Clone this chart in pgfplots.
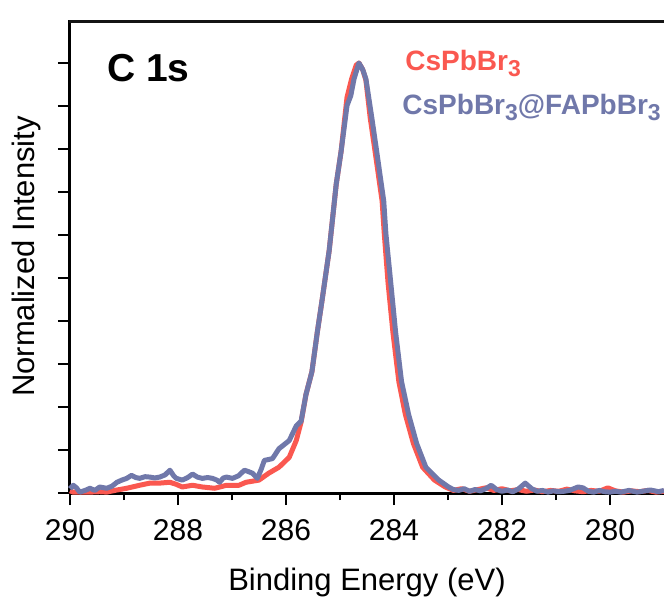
\documentclass[border=0pt]{standalone}
\usepackage{pgfplots}
\pgfplotsset{compat=1.18}
\usepackage{fontspec}
\setmainfont{Liberation Sans}
\definecolor{csred}{RGB}{250,88,80}
\definecolor{csblue}{RGB}{112,120,170}
\definecolor{spine}{RGB}{20,20,20}

\pgfplotstableread{
E I
290.00 0.005
289.94 0.002
289.82 0.002
289.63 0.002
289.45 0.003
289.32 0.002
289.13 0.007
288.95 0.011
288.71 0.018
288.52 0.023
288.34 0.023
288.15 0.025
288.03 0.020
287.92 0.014
287.73 0.018
287.55 0.014
287.32 0.011
287.10 0.018
286.87 0.018
286.74 0.025
286.50 0.030
286.32 0.046
286.13 0.060
285.94 0.083
285.81 0.122
285.72 0.165
285.63 0.229
285.52 0.282
285.42 0.374
285.33 0.450
285.20 0.564
285.07 0.718
284.98 0.794
284.87 0.920
284.78 0.965
284.70 0.995
284.65 1.000
284.58 0.985
284.52 0.960
284.44 0.872
284.35 0.794
284.22 0.679
284.18 0.603
284.11 0.489
284.02 0.374
283.91 0.259
283.79 0.183
283.64 0.115
283.47 0.060
283.25 0.030
283.05 0.014
282.90 0.006
282.75 0.010
282.60 0.004
282.45 0.008
282.30 0.012
282.15 0.006
282.00 0.010
281.85 0.005
281.70 0.008
281.55 0.004
281.40 0.007
281.25 0.003
281.10 0.006
280.95 0.004
280.80 0.009
280.65 0.005
280.50 0.003
280.35 0.006
280.20 0.004
280.04 0.012
279.90 0.005
279.75 0.002
279.60 0.005
279.45 0.003
279.30 0.006
279.15 0.002
279.00 0.004
}\redtab

\pgfplotstableread{
E I
290.00 0.010
289.94 0.018
289.88 0.012
289.82 0.002
289.72 0.006
289.63 0.011
289.54 0.006
289.45 0.014
289.32 0.011
289.22 0.016
289.13 0.025
289.04 0.030
288.95 0.034
288.86 0.041
288.78 0.036
288.71 0.034
288.61 0.038
288.52 0.037
288.43 0.035
288.34 0.037
288.24 0.042
288.15 0.053
288.08 0.040
288.03 0.034
287.92 0.030
287.82 0.036
287.73 0.044
287.64 0.037
287.55 0.034
287.45 0.036
287.36 0.034
287.28 0.030
287.23 0.025
287.16 0.035
287.10 0.037
286.99 0.034
286.88 0.040
286.77 0.053
286.70 0.050
286.62 0.046
286.53 0.034
286.46 0.055
286.40 0.076
286.32 0.078
286.25 0.080
286.13 0.103
286.04 0.112
285.94 0.122
285.81 0.156
285.72 0.167
285.63 0.229
285.52 0.282
285.42 0.374
285.33 0.450
285.20 0.564
285.07 0.718
284.98 0.794
284.87 0.901
284.80 0.924
284.74 0.963
284.65 1.000
284.58 0.985
284.52 0.963
284.41 0.872
284.32 0.794
284.19 0.679
284.15 0.603
284.06 0.489
283.97 0.374
283.86 0.259
283.73 0.183
283.58 0.115
283.41 0.060
283.17 0.030
282.99 0.014
282.90 0.008
282.80 0.006
282.70 0.010
282.60 0.004
282.50 0.008
282.40 0.005
282.30 0.010
282.20 0.018
282.10 0.008
282.00 0.004
281.90 0.007
281.80 0.003
281.70 0.009
281.57 0.023
281.45 0.010
281.35 0.004
281.25 0.006
281.15 0.002
281.05 0.005
280.95 0.003
280.85 0.004
280.75 0.006
280.59 0.014
280.50 0.012
280.40 0.004
280.30 0.002
280.20 0.006
280.10 0.003
280.00 0.002
279.90 0.004
279.80 0.002
279.65 0.006
279.50 0.002
279.40 0.004
279.25 0.007
279.10 0.003
279.00 0.006
}\bluetab

\newcommand{\sub}[1]{\raisebox{-0.4ex}{\fontsize{11.5}{12}\selectfont #1}}

\begin{document}
\begin{tikzpicture}
  \begin{axis}[
      scale only axis,
      width=297pt, height=236.5pt,
      x dir=reverse,
      xmin=279.0, xmax=290,
      ymin=0, ymax=1.1,
      axis x line*=bottom, axis y line*=left,
      axis line style={line width=1.5pt},
      xtick={280,282,...,290},
      minor x tick num=1,
      ytick={0,0.1,...,1.0},
      yticklabels={},
      tick align=outside,
      major tick length=6pt, minor tick length=3.5pt,
      tick style={line width=1.3pt, black},
      /pgf/number format/assume math mode=true,
      /pgf/number format/1000 sep={},
      xticklabel style={font=\fontsize{15}{15}\selectfont, yshift=-3.5pt},
      xlabel={Binding Energy (eV)},
      xlabel style={font=\fontsize{15.5}{16}\selectfont, at={(axis description cs:0.5,0)}, anchor=base, yshift=-48.5pt},
      ylabel={Normalized Intensity},
      ylabel style={font=\fontsize{15.5}{16}\selectfont, at={(axis description cs:-0.0606,0.5)}, anchor=base},
      clip=false,
    ]
    \addplot[csred, line width=2.5pt, line join=round] table[x=E, y=I] {\redtab};
    \addplot[csblue, line width=2.5pt, line join=round] table[x=E, y=I] {\bluetab};
    \draw[spine, line width=1.6pt] ([yshift=-0.6pt]axis description cs:-0.0025,1) -- ([yshift=-0.6pt]axis description cs:1.01,1);
    \node[anchor=base west, inner sep=0pt, font=\fontsize{19.5}{20}\selectfont\bfseries]
      at (rel axis cs:0.062,0.871) {C 1s};
    \node[anchor=base west, inner sep=0pt, text=csred, font=\fontsize{14}{15}\selectfont\bfseries]
      at (rel axis cs:0.564,0.894) {CsPbBr\sub{3}};
    \node[anchor=base west, inner sep=0pt, text=csblue, font=\fontsize{14}{15}\selectfont\bfseries]
      at (rel axis cs:0.559,0.800) {CsPbBr\sub{3}@FAPbBr\sub{3}};
  \end{axis}
  \pgfresetboundingbox
  \path[use as bounding box] ([xshift=-35pt,yshift=-53pt]current axis.south west) rectangle ([yshift=10pt]current axis.north east);
\end{tikzpicture}
\end{document}
